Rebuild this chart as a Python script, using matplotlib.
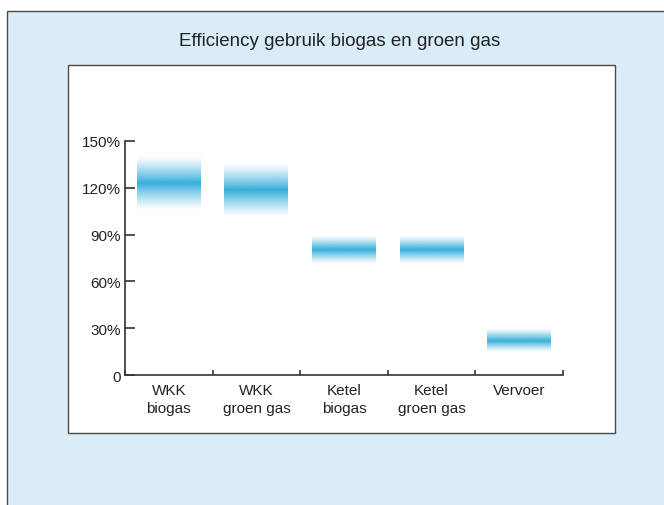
import numpy as np
import matplotlib
matplotlib.use("Agg")
import matplotlib.pyplot as plt
from matplotlib.patches import Rectangle

plt.rcParams['font.family'] = ['Liberation Sans', 'DejaVu Sans']

# Efficiency ranges per application (percent)
categories = ["WKK\nbiogas", "WKK\ngroen gas", "Ketel\nbiogas", "Ketel\ngroen gas", "Vervoer"]
central = [123, 118, 80, 80, 22]
low = [106, 101, 71, 71, 15]
high = [140, 135, 89, 89, 30]
ytick_values = [0, 30, 60, 90, 120, 150]
ytick_labels = ["0", "30%", "60%", "90%", "120%", "150%"]
title = "Efficiency gebruik biogas en groen gas"

W, H = 664, 506
fig = plt.figure(figsize=(W / 100, H / 100), dpi=100)
fig.patch.set_facecolor("white")

def fx(px):
    return px / W

def fy(py):
    return 1 - py / H

# light blue background panel
fig.patches.append(Rectangle((fx(7), -0.05), 1.2, fy(12) + 0.05, transform=fig.transFigure,
                             facecolor="#D9ECF8", edgecolor="#4a4a4a", lw=1.0, zorder=0))
# white chart box
fig.patches.append(Rectangle((fx(68), fy(434)), fx(615) - fx(68), fy(66) - fy(434),
                             transform=fig.transFigure, facecolor="white",
                             edgecolor="#4a4a4a", lw=1.0, zorder=0.5))

fig.text(fx(340), fy(42), title, ha="center", va="center", fontsize=13.5, color="#222222")

ax = fig.add_axes([fx(125), fy(376), fx(563) - fx(125), fy(142) - fy(376)])
ax.set_zorder(2)
ax.set_facecolor("none")

band_rgb = np.array([0x36, 0xAF, 0xDC]) / 255.0
bar_width = 0.73
for i, (c, lo, hi) in enumerate(zip(central, low, high)):
    vals = np.linspace(lo, hi, 200)
    t = np.where(vals >= c, (vals - c) / (hi - c), (c - vals) / (c - lo))
    alpha = np.clip(1 - t, 0, 1) ** 1.2
    img = np.zeros((len(vals), 1, 4))
    img[:, 0, :3] = band_rgb
    img[:, 0, 3] = alpha
    x0 = i + 0.5 - bar_width / 2
    ax.imshow(img, extent=(x0, x0 + bar_width, lo, hi), origin="lower",
              aspect="auto", interpolation="bilinear", zorder=2)

ax.set_xlim(0, len(categories))
ax.set_ylim(0, 150)

for side in ("top", "right"):
    ax.spines[side].set_visible(False)
for side in ("left", "bottom"):
    ax.spines[side].set_color("#333333")
    ax.spines[side].set_linewidth(1.2)

ax.set_yticks(ytick_values)
ax.set_yticklabels(ytick_labels, fontsize=11, color="#222222")
ax.tick_params(axis="y", direction="in", length=7.5, width=1.2, color="#333333", pad=3)

ax.set_xticks(range(len(categories) + 1))
ax.set_xticklabels([])
ax.tick_params(axis="x", direction="in", length=3.8, width=1.2, color="#333333")
ax.set_xticks([i + 0.5 for i in range(len(categories))], minor=True)
ax.set_xticklabels(categories, minor=True, fontsize=11, color="#222222", linespacing=1.32)
ax.tick_params(axis="x", which="minor", length=0, pad=6)

fig.savefig("out.png", dpi=100)
